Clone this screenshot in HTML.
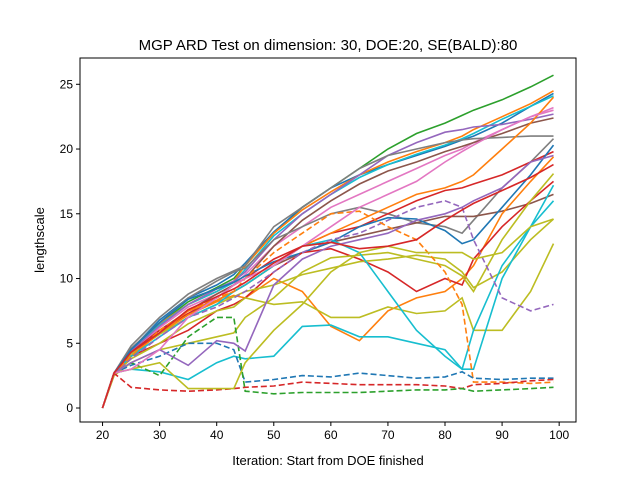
<!DOCTYPE html>
<html><head><meta charset="utf-8"><style>
body{margin:0;background:#fff;}
svg{font-family:"Liberation Sans","DejaVu Sans",sans-serif;}
</style></head><body>
<svg id="chart" width="640" height="476">
<rect width="640" height="476" fill="#fff"/>
<text x="328" y="50" text-anchor="middle" font-size="15">MGP ARD Test on dimension: 30, DOE:20, SE(BALD):80</text>
<text x="328" y="465" text-anchor="middle" font-size="13">Iteration: Start from DOE finished</text>
<text transform="translate(44,240) rotate(-90)" text-anchor="middle" font-size="13">lengthscale</text>
<g id="plot"></g>
<g id="axes"></g>
</svg>
<script>
const xs = [20,22,25,30,35,40,43,45,50,55,60,65,70,75,80,83,85,90,95,99];
const xTicks = [20,30,40,50,60,70,80,90,100];
const yTicks = [0,5,10,15,20,25];
const colors = ["#2ca02c","#1f77b4","#ff7f0e","#17becf","#9467bd","#e377c2","#8c564b","#7f7f7f","#7f7f7f","#d62728","#8c564b","#1f77b4","#ff7f0e","#d62728","#bcbd22","#bcbd22","#bcbd22","#ff7f0e","#17becf","#17becf","#9467bd","#ff7f0e","#1f77b4","#d62728","#2ca02c","#9467bd","#bcbd22","#e377c2","#d62728"];
const dashed = [0,0,0,0,0,0,0,0,0,0,0,0,0,0,0,0,0,0,0,0,1,1,1,1,1,0,0,0,0];
const s0 = [0,2.7,4.5,6.5,8.2,9.3,10,11,13.5,15.5,17,18.5,20,21.2,22,22.6,23,23.8,24.8,25.7];
const s1 = [0,2.7,4.5,6.8,8.5,9.5,10.3,11.2,13.6,15.5,17,18,18.8,19.5,20.2,20.7,21,22,23.3,24.3];
const s2 = [0,2.7,4.5,6.5,8,9,9.8,11,13.5,15.3,16.7,18,19,19.8,20.5,21,21.5,22.5,23.5,24.5];
const s3 = [0,2.7,4.4,6.4,8,9,9.7,10.7,13.3,15,16.5,17.8,18.8,19.6,20.3,20.8,21.2,22.3,23.3,24.1];
const s4 = [0,2.7,4.4,6.3,8,9.2,9.8,10.5,13,15,16.5,18,19.5,20.5,21.3,21.5,21.7,21.9,22.3,22.7];
const s5 = [0,2.7,4.2,6.2,7.8,8.8,9.5,10.3,12.5,14,15.5,16.5,17.5,18.5,19.5,20,20.5,21.5,22.5,23.2];
const s6 = [0,2.7,4.3,6,7.5,8.8,9.5,10,12.5,14.5,16,17.3,18.3,19,19.8,20.2,20.5,21.2,22,22.4];
const s7 = [0,2.7,4.8,7,8.8,10,10.6,11,14,15.5,17,18.5,19.5,20,20.5,20.7,20.8,20.9,21,21];
const s8 = [0,2.7,4.6,6.6,8.5,9.8,10.5,10.8,13,14,15,15.5,15,14.3,14,13.5,14.5,17,19,20.8];
const s9 = [0,2.7,4.3,6,7.3,8.5,9.5,10,11.5,12.5,13.5,14,15,16,16.8,17,17.3,18,19,19.8];
const s10 = [0,2.6,4.2,5.8,7.2,8.3,9,9.5,11,12,12.8,13.3,13.8,14.3,14.8,14.8,14.8,15.2,15.8,16.5];
const s11 = [0,2.7,4.5,6.6,8.4,9.2,9.7,10.2,11.3,12,12.8,14,14.7,14.6,13.7,12.7,13,15.5,18,20.3];
const s12 = [0,2.6,4,5.8,7.2,8.2,8.7,8.5,10,9,6.3,5.2,7.5,8.5,9,10,11,15,17.5,19.4];
const s13 = [0,2.6,4,5,6,7.5,8,8.5,10.5,12,12.3,11.5,10.5,9,10,9.5,11.5,14,16,17.5];
const s14 = [0,2.5,4.2,5.7,7,8,8.6,9,9.5,10.3,10.8,11.3,11.5,11.8,11.5,10.5,9.3,10.5,13,14.6];
const s15 = [0,2.5,3.5,4.5,5,5.5,5.8,7,8.5,10.5,11.6,11.8,12,11.5,11,10.2,9,13,16,18.1];
const s16 = [0,2.6,3.8,5,6.5,7.5,7.8,8.5,8,8.2,7,7,7.8,7.3,7.5,8.5,6,6,9,12.7];
const s17 = [0,2.6,4,5.8,7.5,8.3,9,9.5,11,12.5,13.5,14.5,15.5,16.5,17,17.5,18,20,22,24];
const s18 = [0,2.7,3,2.8,2.2,3.5,4,3.8,4,6.3,6.4,5.5,5.5,5,4.5,3,3,10,14,17.2];
const s19 = [0,2.7,4,5.5,7,8,9,9.5,11,12.5,13,12,9,6,4,3,6,11,14,16];
const s20 = [0,2.7,3.8,5.5,7,7.8,8.5,9,10.5,12,13,13.5,14.5,15.5,16,15.5,13,8.5,7.5,8];
const s21 = [0,2.7,4,6,7.5,8.5,9,10,12,13.5,15,15.2,14,13,10.5,8,2,2,1.9,2];
const s22 = [0,2.7,3.3,4,5,5,4.5,2,2.2,2.5,2.4,2.7,2.5,2.3,2.4,2.8,2.3,2.2,2.3,2.3];
const s23 = [0,2.7,1.6,1.4,1.3,1.4,1.5,1.6,1.7,2,1.9,1.8,1.8,1.8,1.7,1.5,1.8,1.9,2.1,2.2];
const s24 = [0,2.7,3.5,2.5,5.5,7,7,1.3,1.1,1.2,1.2,1.2,1.3,1.4,1.4,1.5,1.3,1.4,1.5,1.6];
const s25 = [0,2.7,3.5,4.5,3.3,5.2,5,4.4,9.5,11.5,12.5,13,13.5,14.5,15,15.5,16,17,19,19.5];
const s26 = [0,2.7,3,3.5,1.5,1.5,1.5,3.5,6,8,10.5,12,12.5,12,12,12,11.5,12,14,14.6];
const s27 = [0,2.7,3,4.5,7,8.5,9.5,10,11,12.5,14,15.5,16.5,17.5,19,19.8,20.3,21.5,22.5,23];
const s28 = [0,2.7,4.3,5.8,7.6,8.6,9.2,9.7,11.2,12.5,12.8,12.3,12.5,13,14.5,15.3,15.8,16.8,17.8,18.8];
const series = [s0,s1,s2,s3,s4,s5,s6,s7,s8,s9,s10,s11,s12,s13,s14,s15,s16,s17,s18,s19,s20,s21,s22,s23,s24,s25,s26,s27,s28];

const L=80,R=576,T=58,B=422, xMin=16.05,xMax=102.95,yMin=-1.08,yMax=27.03;
const X=v=>L+(v-xMin)/(xMax-xMin)*(R-L);
const Y=v=>B-(v-yMin)/(yMax-yMin)*(B-T);
const NS="http://www.w3.org/2000/svg";
const plot=document.getElementById('plot'), axes=document.getElementById('axes');
series.forEach((s,i)=>{
  const p=document.createElementNS(NS,'polyline');
  p.setAttribute('points', s.map((v,j)=>X(xs[j]).toFixed(1)+','+Y(v).toFixed(1)).join(' '));
  p.setAttribute('fill','none');
  p.setAttribute('stroke',colors[i]);
  p.setAttribute('stroke-width','1.6');
  if(dashed[i]) p.setAttribute('stroke-dasharray','6,3');
  
  
  plot.appendChild(p);
});
const f=document.createElementNS(NS,'rect');
f.setAttribute('x',L);f.setAttribute('y',T);f.setAttribute('width',R-L);f.setAttribute('height',B-T);
f.setAttribute('fill','none');f.setAttribute('stroke','#000');f.setAttribute('stroke-width','1');


axes.appendChild(f);
xTicks.forEach(t=>{
  const l=document.createElementNS(NS,'line');
  l.setAttribute('x1',X(t));l.setAttribute('x2',X(t));l.setAttribute('y1',B);l.setAttribute('y2',B+4);l.setAttribute('stroke','#000');
  
  
  axes.appendChild(l);
  const tx=document.createElementNS(NS,'text');
  tx.setAttribute('x',X(t));tx.setAttribute('y',B+17);tx.setAttribute('text-anchor','middle');tx.setAttribute('font-size','12');
  tx.textContent=t;
  
  
  axes.appendChild(tx);
});
yTicks.forEach(t=>{
  const l=document.createElementNS(NS,'line');
  l.setAttribute('x1',L-4);l.setAttribute('x2',L);l.setAttribute('y1',Y(t));l.setAttribute('y2',Y(t));l.setAttribute('stroke','#000');
  
  
  axes.appendChild(l);
  const tx=document.createElementNS(NS,'text');
  tx.setAttribute('x',L-7);tx.setAttribute('y',Y(t)+4);tx.setAttribute('text-anchor','end');tx.setAttribute('font-size','12');
  tx.textContent=t;
  
  
  axes.appendChild(tx);
});
</script>
</body></html>
